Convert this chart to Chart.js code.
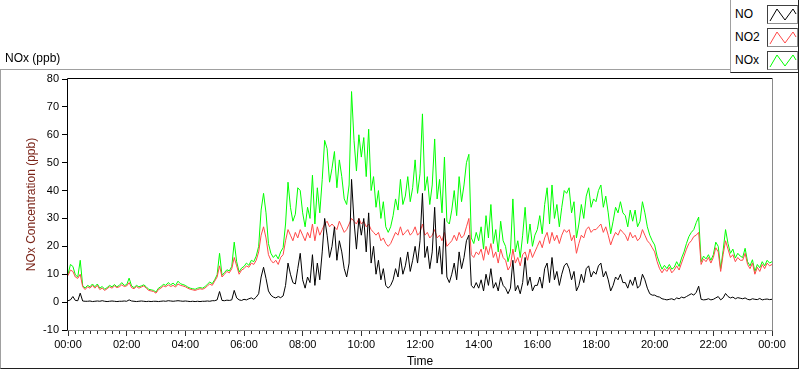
<!DOCTYPE html>
<html><head><meta charset="utf-8">
<script src="https://cdn.jsdelivr.net/npm/chart.js@4.4.1/dist/chart.umd.min.js"></script>
<style>
html,body{margin:0;padding:0;background:#fff;width:800px;height:369px;overflow:hidden;font-family:'Liberation Sans',Arial,sans-serif;}
#wrap{position:relative;width:800px;height:369px;}
#c{position:absolute;left:0;top:0;}
#frame{position:absolute;left:0;top:69px;width:799px;height:300px;box-sizing:border-box;border-top:1px solid #a0a0a0;border-left:1px solid #a0a0a0;border-right:1px solid #202020;border-bottom:1px solid #202020;pointer-events:none;}
#title{position:absolute;left:5px;top:50px;font-size:12px;line-height:16px;color:#000;}
#legend{position:absolute;left:730px;top:-1px;width:69px;height:74px;box-sizing:border-box;background:#fff;border-left:1px solid #a0a0a0;border-right:1px solid #202020;border-bottom:1px solid #202020;}
.lt{position:absolute;left:4px;font-size:12px;line-height:16px;color:#000;}
.lb{position:absolute;left:36px;width:31px;height:19px;box-sizing:border-box;border-top:1px solid #404040;border-left:1px solid #404040;border-right:1px solid #909090;border-bottom:1px solid #909090;background:#fff;}
.lb svg{position:absolute;left:0;top:0;}
</style>
</head><body>
<div id="wrap">
<canvas id="c" width="800" height="369"></canvas>
<div id="frame"></div>
<div id="title">NOx (ppb)</div>
<div id="legend"></div>
</div>
<script>
// ---- data (5-minute samples, 00:00 .. 24:00) ----
const seriesNames = ['NO', 'NO2', 'NOx'];
const seriesColors = ['#000000', '#ff4848', '#00ff00'];
const xTickLabels = ['00:00','02:00','04:00','06:00','08:00','10:00','12:00','14:00','16:00','18:00','20:00','22:00','00:00'];
const yTicks = [-10, 0, 10, 20, 30, 40, 50, 60, 70, 80];
const stepMinutes = 5;

const no = [
 0.5,0.8,2.0,0.6,0.5,3.2,0.4,0.3,0.3,0.4,0.2,0.3,
 0.4,0.3,0.5,0.3,0.2,0.3,0.4,0.3,0.2,0.3,0.3,0.4,
 0.3,0.8,0.4,0.3,0.2,0.3,0.4,0.3,0.2,0.3,0.2,0.3,
 0.3,0.2,0.3,0.4,0.3,0.5,0.4,0.3,0.4,0.5,0.4,0.3,
 0.4,0.3,0.2,0.3,0.2,0.3,0.2,0.3,0.3,0.4,0.3,0.5,
 0.5,0.8,3.8,0.6,0.5,0.7,0.6,0.8,4.2,1.5,0.8,0.6,
 1.0,0.8,1.2,1.5,1.0,1.8,3.0,9.0,12.5,8.5,4.0,2.5,
 1.8,1.5,2.0,1.6,2.2,6.0,14.0,10.0,7.0,6.5,12.0,17.5,
 8.0,5.0,9.0,7.0,17.0,6.0,14.0,8.0,18.0,30.0,24.0,16.0,
 20.0,27.0,15.0,22.0,18.0,12.0,9.0,14.0,44.0,29.0,19.0,30.0,
 24.0,30.0,18.0,32.0,14.0,20.0,10.0,15.0,8.0,12.0,6.0,5.0,
 6.0,8.0,12.0,9.0,16.0,10.0,13.0,18.0,11.0,15.0,20.0,14.0,
 22.0,39.0,16.0,20.0,12.0,18.0,34.0,14.0,20.0,10.0,30.0,9.0,
 7.0,10.0,14.0,8.0,18.0,12.0,16.0,22.0,24.0,6.0,5.0,7.0,
 5.0,8.0,4.0,10.0,6.0,12.0,5.0,7.0,4.0,9.0,6.0,5.0,
 3.0,5.0,15.0,4.0,6.0,3.0,7.0,16.0,6.0,9.0,4.0,6.0,
 6.0,9.0,5.0,12.0,14.0,7.0,16.0,8.0,11.0,6.0,10.0,13.0,
 14.0,12.0,8.0,11.0,4.0,6.0,10.0,7.0,12.0,13.0,9.0,11.0,
 10.0,13.0,14.0,9.0,11.0,8.0,4.0,6.0,9.0,8.0,10.0,7.0,
 7.0,5.0,8.0,6.0,9.0,5.0,6.0,10.0,8.0,5.0,3.0,2.5,
 2.5,2.0,1.8,1.2,1.0,0.8,1.0,1.2,0.8,1.5,1.2,1.8,
 1.5,2.0,2.5,3.0,2.5,3.5,5.7,1.0,0.8,0.9,1.2,0.8,
 1.0,1.5,2.0,0.8,1.5,3.1,2.0,1.5,1.8,1.2,1.6,1.4,
 1.2,1.5,1.0,0.8,1.2,1.0,0.9,1.3,0.8,1.0,1.1,0.9,
 1.0
];
const no2 = [
 9.5,11.5,11.0,9.0,8.5,10.0,5.5,4.5,5.5,5.0,6.0,5.0,
 6.0,4.5,5.0,4.2,4.8,5.5,5.0,5.8,5.2,5.5,6.2,5.6,
 5.8,7.0,5.2,4.8,5.6,5.0,5.4,5.8,5.0,4.2,4.0,3.8,
 3.2,4.5,5.0,5.8,5.5,6.2,5.6,6.0,5.4,6.5,6.0,5.8,
 5.5,5.0,4.6,4.4,4.2,4.5,4.8,4.6,5.0,5.8,6.5,6.0,
 7.5,9.0,13.0,9.0,10.0,11.0,10.5,12.0,16.0,13.0,10.0,11.5,
 12.0,13.0,12.5,14.0,13.5,15.0,18.0,24.0,27.0,23.0,17.0,15.0,
 14.0,15.0,13.5,16.0,17.0,22.0,26.0,24.0,22.0,25.0,23.0,26.0,
 24.0,22.0,25.0,23.0,28.0,22.0,27.0,24.0,26.0,28.0,29.0,27.0,
 28.0,27.0,26.0,29.0,27.0,25.0,26.0,28.0,30.0,29.0,28.0,30.0,
 28.0,29.0,27.0,28.0,26.0,25.0,24.0,25.0,22.0,23.0,21.0,20.0,
 21.0,23.0,25.0,24.0,27.0,24.0,25.0,26.0,24.0,25.0,27.0,24.0,
 25.0,28.0,24.0,25.0,23.0,24.0,26.0,23.0,24.0,22.0,25.0,20.0,
 21.0,22.0,24.0,22.0,25.0,23.0,24.0,27.0,30.0,17.0,16.0,18.0,
 17.0,19.0,15.0,20.0,17.0,21.0,16.0,18.0,14.0,19.0,16.0,15.0,
 11.5,13.0,19.0,14.0,16.0,13.0,17.0,18.0,15.0,19.0,16.0,18.0,
 20.0,22.0,19.5,23.0,25.0,21.0,25.0,22.0,24.0,21.0,24.0,26.0,
 25.0,26.0,22.0,24.0,17.5,21.0,24.0,23.0,26.0,27.0,25.0,26.0,
 26.0,27.0,28.0,25.0,27.0,24.0,20.5,23.0,25.0,24.0,26.0,25.0,
 24.0,22.0,25.0,23.0,24.0,22.0,23.0,26.0,24.0,22.0,21.0,19.5,
 18.0,14.5,12.0,10.5,12.0,11.0,12.5,10.5,11.5,13.0,11.5,14.0,
 16.5,19.0,21.0,22.0,23.5,24.0,25.0,13.5,15.5,14.5,16.0,14.0,
 16.0,19.5,18.0,11.0,17.0,22.0,19.0,16.0,17.0,14.5,16.0,15.0,
 15.0,17.5,13.5,12.0,14.0,10.0,12.5,11.0,13.5,12.0,14.0,13.0,
 13.5
];
const nox = [
 10.0,13.5,12.8,9.8,9.0,15.0,6.0,5.0,6.0,5.5,6.5,5.5,
 6.5,5.0,5.6,4.6,5.2,6.0,5.5,6.3,5.5,6.0,7.0,6.0,
 6.2,8.6,5.8,5.2,6.0,5.5,5.8,6.2,5.5,4.6,4.4,4.2,
 3.6,5.0,5.5,6.4,6.0,7.0,6.2,6.8,6.0,7.5,6.6,6.3,
 6.0,5.4,5.0,4.8,4.6,5.0,5.2,5.0,5.5,6.4,7.2,6.6,
 8.0,9.8,17.5,9.6,10.6,11.6,11.2,12.8,21.5,14.5,10.8,12.2,
 12.8,14.0,13.2,15.0,14.5,16.5,20.0,33.0,39.0,32.0,21.0,17.5,
 16.0,17.0,15.5,18.0,19.5,28.0,43.0,34.0,29.0,31.5,41.0,40.0,
 32.0,27.0,34.0,30.0,45.5,28.0,41.0,32.0,44.0,58.0,55.0,43.0,
 48.0,54.0,41.0,51.0,45.0,37.0,35.0,42.0,75.5,58.0,47.0,60.0,
 52.0,59.0,45.0,62.0,40.0,45.0,34.0,40.0,30.0,36.0,27.0,25.0,
 27.0,31.0,37.0,33.0,44.0,35.0,38.0,45.0,36.0,41.0,51.0,39.0,
 46.0,67.5,40.0,45.0,35.0,42.0,58.5,37.0,44.0,32.0,52.0,29.0,
 28.0,33.0,40.0,31.0,45.0,36.0,42.0,50.0,53.0,23.0,21.0,25.0,
 22.0,27.0,19.0,31.0,23.0,35.0,21.0,26.0,18.0,29.0,22.0,20.0,
 14.5,18.0,37.0,18.0,22.0,16.0,24.0,34.0,21.0,28.0,20.0,24.0,
 26.0,31.0,24.5,35.0,41.0,28.0,42.0,30.0,35.0,27.0,34.0,40.0,
 39.0,41.0,32.0,36.0,23.0,28.0,35.0,30.0,38.0,41.0,34.0,37.0,
 36.0,40.0,42.0,34.0,38.0,32.0,24.5,29.0,34.0,32.0,36.0,32.0,
 31.0,27.0,33.0,29.0,33.0,27.0,29.0,36.0,32.0,27.0,24.0,22.0,
 20.5,16.5,14.0,11.8,13.2,12.0,13.5,11.8,12.5,14.5,12.8,15.8,
 18.0,21.0,23.5,25.0,26.0,28.5,30.5,14.5,16.5,15.5,17.0,15.0,
 17.0,21.5,20.0,12.0,18.5,26.0,21.0,17.5,19.0,15.8,17.5,16.5,
 16.0,19.3,14.5,13.0,15.2,11.0,13.5,12.3,14.5,13.0,15.0,14.0,
 14.5
];

// sampling grid in minutes since 00:00
const minutes = no.map((_, i) => i * stepMinutes);
const seriesValues = [no, no2, nox];

const FONT = "'Liberation Sans', Arial, sans-serif";

// legend (HTML)
const leg = document.getElementById('legend');
seriesNames.forEach((name, i) => {
  const t = document.createElement('div');
  t.className = 'lt'; t.textContent = name; t.style.top = (7 + 23 * i) + 'px';
  leg.appendChild(t);
  const b = document.createElement('div');
  b.className = 'lb'; b.style.top = (6 + 23 * i) + 'px';
  b.innerHTML = '<svg width="29" height="17"><polyline points="2,15 9,3 17,14 25,3 28,8" fill="none" stroke="' + seriesColors[i] + '" stroke-width="1"/></svg>';
  leg.appendChild(b);
});

const framePlugin = {
  id: 'frame',
  afterDraw(chart) {
    const {ctx, chartArea: a} = chart;
    const xs = chart.scales.x;
    ctx.save();
    ctx.lineWidth = 1;
    // minor x ticks every 15 minutes
    ctx.strokeStyle = '#303030';
    ctx.beginPath();
    for (let m = 0; m <= 1440; m += 15) {
      if (m % 120 === 0) continue;
      const px = Math.round(xs.getPixelForValue(m)) + 0.5;
      ctx.moveTo(px, a.bottom + 1);
      ctx.lineTo(px, a.bottom + 4);
    }
    ctx.stroke();
    // plot frame
    ctx.strokeStyle = '#000';
    ctx.beginPath();
    ctx.moveTo(a.left - 0.5, a.bottom + 0.5); ctx.lineTo(a.left - 0.5, a.top - 0.5); ctx.lineTo(a.right + 0.5, a.top - 0.5);
    ctx.stroke();
    ctx.strokeStyle = '#8a8a8a';
    ctx.beginPath();
    ctx.moveTo(a.right + 0.5, a.top - 0.5); ctx.lineTo(a.right + 0.5, a.bottom + 0.5); ctx.lineTo(a.left - 0.5, a.bottom + 0.5);
    ctx.stroke();
    ctx.restore();
  }
};

new Chart(document.getElementById('c'), {
  type: 'line',
  data: {
    datasets: seriesNames.map((name, i) => ({
      label: name,
      data: seriesValues[i].map((v, k) => ({x: minutes[k], y: v})),
      borderColor: seriesColors[i],
      backgroundColor: seriesColors[i],
      borderWidth: 1,
      pointRadius: 0,
      tension: 0,
      fill: false,
      order: i + 1
    }))
  },
  options: {
    responsive: false,
    animation: false,
    events: [],
    layout: {padding: {top: 79, right: 28, left: 0, bottom: 0}},
    plugins: {legend: {display: false}, tooltip: {enabled: false}},
    scales: {
      x: {
        type: 'linear', min: 0, max: 1440,
        afterFit: s => { s.height = 39; },
        afterBuildTicks: s => { s.ticks = xTickLabels.map((_, i) => ({value: i * 120})); },
        border: {display: false},
        grid: {drawOnChartArea: false, tickLength: 6, tickColor: '#303030', lineWidth: 1},
        ticks: {autoSkip: false, maxRotation: 0, padding: 2, color: '#000',
          font: {family: FONT, size: 11},
          callback: (v) => xTickLabels[Math.round(v / 120)]},
        title: {display: true, text: 'Time', color: '#000', font: {family: FONT, size: 12}, padding: {top: 0, bottom: 0}}
      },
      y: {
        min: -10, max: 80,
        afterFit: s => { s.width = 68; },
        afterBuildTicks: s => { s.ticks = yTicks.map(v => ({value: v})); },
        border: {display: false},
        grid: {drawOnChartArea: false, tickLength: 6, tickColor: '#000', lineWidth: 1},
        ticks: {padding: 3, color: '#000', font: {family: FONT, size: 11}},
        title: {display: true, text: 'NOx Concentration (ppb)', color: '#7a2418', font: {family: FONT, size: 12}, padding: {top: 24, bottom: 0}}
      }
    }
  },
  plugins: [framePlugin]
});
</script>
</body></html>
